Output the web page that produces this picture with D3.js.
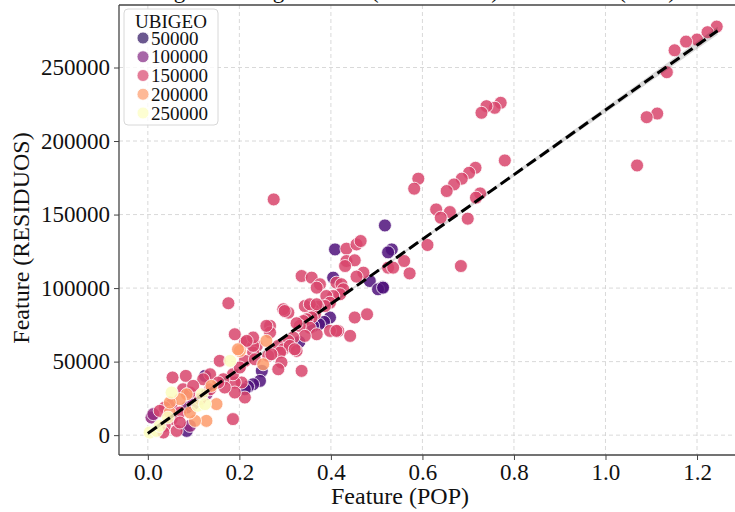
<!DOCTYPE html>
<html>
<head>
<meta charset="utf-8">
<script src="https://cdn.jsdelivr.net/npm/d3@7"></script>
<style>
  body { margin: 0; background: #fff; }
  svg { display: block; }
  text { font-family: "Liberation Serif", "Times New Roman", serif; fill: #111; }
</style>
</head>
<body>
<svg id="chart"></svg>
<script>
// points: [POP, RESIDUOS], one array per UBIGEO colour group
const darkCode = 70101;
const darkPts = [[0.518,142600],[0.533,126300],[0.525,124300],[0.513,100700],[0.409,126300],[0.405,107100],[0.485,104800],[0.503,99200],[0.514,100300],[0.398,80000],[0.385,77000],[0.374,75400],[0.361,74300],[0.331,63400],[0.249,43700],[0.245,36900],[0.230,34600],[0.219,33000],[0.212,31200],[0.125,40300],[0.085,2900]];

const magentaCode = 110101;
const magentaPts = [[0.008,12000],[0.012,14300],[0.085,18800],[0.092,6300],[0.128,27800],[0.099,21100]];

const pinkCode = 150101;
const pinkPts = [
  [1.243,277800],[1.223,274000],[1.200,269000],[1.176,267600],[1.151,261700],[1.134,246800],[1.113,218700],[1.090,216200],[1.069,183400],
  [0.771,226000],[0.758,222600],[0.740,223700],[0.729,219200],[0.780,186800],[0.716,181800],[0.702,178400],[0.686,174400],[0.669,170500],[0.653,166000],[0.591,174400],[0.582,167600],[0.726,164400],[0.717,161500],[0.660,151700],[0.630,153500],[0.640,147900],[0.699,147200],[0.611,129300],[0.684,115000],[0.560,118400],[0.572,110000],[0.525,113900],[0.536,113900],
  [0.275,160300],[0.434,126800],[0.456,129700],[0.465,132000],[0.434,118400],[0.452,118900],[0.431,115000],[0.471,110500],[0.456,107800],[0.336,108200],[0.358,107100],[0.376,102600],[0.369,100300],[0.412,103700],[0.423,102600],[0.427,99200],[0.420,95800],[0.405,94600],[0.390,94600],[0.398,90100],[0.387,87800],[0.372,87400],[0.361,85600],[0.365,82200],[0.358,80000],[0.347,78800],[0.340,77600],[0.307,83300],[0.296,85600],[0.354,73100],[0.332,74300],[0.325,76100],[0.452,80000],[0.479,82200],[0.416,70900],[0.398,70900],[0.442,67500],[0.369,68600],[0.343,67500],[0.318,66400],[0.307,64100],[0.267,74300],[0.267,69800],[0.238,60700],[0.285,60700],[0.296,58400],[0.310,60700],[0.289,56200],[0.325,57300],[0.230,56200],[0.263,53900],
  [0.190,68600],[0.212,63000],[0.230,60700],[0.212,50500],[0.234,51600],[0.270,55000],[0.292,49400],[0.285,44800],[0.336,43700],[0.321,58400],[0.299,84400],[0.343,87800],[0.354,89000],[0.369,89000],[0.412,70900],
  [0.205,35800],[0.190,35800],[0.186,41400],[0.212,25600],[0.190,29000],[0.186,10900],
  [0.176,89700],[0.054,39200],[0.083,40300],[0.136,41400],[0.121,38000],[0.165,38000],[0.157,50500],[0.168,32400],[0.154,35800],[0.136,31200],[0.114,24500],[0.052,21100],[0.037,18800],[0.026,16500],[0.070,15400],[0.052,10900],[0.037,6300],[0.063,2900],[0.034,1800],[0.070,8600],[0.077,31200],[0.092,29000],[0.099,33500],[0.259,74300],[0.230,66400],[0.216,64100],[0.201,46000]
];

const orangeCode = 200101;
const orangePts = [[0.259,64100],[0.201,57300],[0.252,48200],[0.197,58400],[0.139,33500],[0.128,9700],[0.103,9700],[0.048,15400],[0.085,27800],[0.070,24500],[0.048,22200],[0.092,15400],[0.150,21100]];

const yellowCode = 250101;
const yellowPts = [[0.004,1800],[0.019,2900],[0.026,6300],[0.044,12000],[0.052,29000],[0.118,27800],[0.109,20000],[0.125,21100],[0.180,50500]];

// fitted line and its confidence band
const fitPop = [0, 0.25, 0.5, 0.75, 1.0, 1.245];
const fitRes = [1200, 56200, 111200, 166100, 221100, 275000];
const fitHalf = [1500, 800, 700, 1200, 1900, 2700];

const legendValues = [50000, 100000, 150000, 200000, 250000];
const xTicks = [0, 0.2, 0.4, 0.6, 0.8, 1.0, 1.2];
const yTicks = [0, 50000, 100000, 150000, 200000, 250000];

const largura = 735, altura = 512;
const svg = d3.select('#chart').attr('width', largura).attr('height', altura);

const esq = 119, dir = 746, topo = 5, base = 455;

const fnX = d3.scaleLinear().domain([-0.063, 1.307]).range([esq, dir]);
const fnY = d3.scaleLinear().domain([-13500, 292500]).range([base, topo]);
const fnCor = v => d3.interpolateMagma((v - 10101) / (250401 - 10101));

svg.append('defs').append('clipPath').attr('id', 'area')
  .append('rect').attr('x', esq).attr('y', topo).attr('width', dir - esq).attr('height', base - topo);

// title (cut by the top of the picture)
svg.append('text')
  .attr('x', 412).attr('y', -2)
  .attr('text-anchor', 'middle')
  .style('font-size', '23px')
  .text('Regresión Log: Feature (RESIDUOS) and Feature (POP)');

// grid
const grade = svg.append('g').attr('clip-path', 'url(#area)');
grade.selectAll('.gx').data(xTicks).enter().append('line')
  .attr('x1', d => fnX(d)).attr('x2', d => fnX(d))
  .attr('y1', topo).attr('y2', base)
  .attr('stroke', '#cfcfcf').attr('stroke-width', 0.8).attr('stroke-dasharray', '4,3');
grade.selectAll('.gy').data(yTicks).enter().append('line')
  .attr('x1', esq).attr('x2', dir)
  .attr('y1', d => fnY(d)).attr('y2', d => fnY(d))
  .attr('stroke', '#cfcfcf').attr('stroke-width', 0.8).attr('stroke-dasharray', '4,3');

// points, lowest UBIGEO first
const pontos = [].concat(
  darkPts.map(p => ({pop: p[0], res: p[1], ubigeo: darkCode})),
  magentaPts.map(p => ({pop: p[0], res: p[1], ubigeo: magentaCode})),
  pinkPts.map(p => ({pop: p[0], res: p[1], ubigeo: pinkCode})),
  orangePts.map(p => ({pop: p[0], res: p[1], ubigeo: orangeCode})),
  yellowPts.map(p => ({pop: p[0], res: p[1], ubigeo: yellowCode}))
);

const plot = svg.append('g').attr('clip-path', 'url(#area)');
plot.selectAll('.ponto').data(pontos).enter().append('circle')
  .classed('ponto', true)
  .attr('cx', d => fnX(d.pop))
  .attr('cy', d => fnY(d.res))
  .attr('r', 6.5)
  .attr('fill', d => fnCor(d.ubigeo))
  .attr('fill-opacity', 0.85)
  .attr('stroke', '#fff')
  .attr('stroke-width', 0.8);

// confidence band + dashed fit line
const ajuste = fitPop.map((x, i) => ({x: x, y: fitRes[i], h: fitHalf[i]}));
plot.append('path').datum(ajuste)
  .attr('d', d3.area().x(d => fnX(d.x)).y0(d => fnY(d.y - d.h)).y1(d => fnY(d.y + d.h)))
  .attr('fill', '#000').attr('fill-opacity', 0.15);
plot.append('path').datum(ajuste)
  .attr('d', d3.line().x(d => fnX(d.x)).y(d => fnY(d.y)))
  .attr('fill', 'none').attr('stroke', '#000')
  .attr('stroke-width', 3).attr('stroke-dasharray', '11,5');

// axes
const eixoX = svg.append('g').attr('transform', 'translate(0,' + base + ')')
  .call(d3.axisBottom(fnX).tickValues(xTicks).tickFormat(d3.format('.1f')).tickSize(5).tickPadding(4));
const eixoY = svg.append('g').attr('transform', 'translate(' + esq + ',0)')
  .call(d3.axisLeft(fnY).tickValues(yTicks).tickFormat(d3.format('d')).tickSize(5).tickPadding(4));
[eixoX, eixoY].forEach(e => {
  e.select('.domain').remove();
  e.selectAll('line').attr('stroke', '#444');
  e.selectAll('text').style('font-size', '23px')
    .style('font-family', '"Liberation Serif", "Times New Roman", serif').attr('fill', '#111');
});

// spines
svg.append('line').attr('x1', esq).attr('x2', esq).attr('y1', topo).attr('y2', base)
  .attr('stroke', '#444').attr('stroke-width', 1.3);
svg.append('line').attr('x1', esq).attr('x2', dir).attr('y1', base).attr('y2', base)
  .attr('stroke', '#444').attr('stroke-width', 1.3);
svg.append('line').attr('x1', esq).attr('x2', dir).attr('y1', topo).attr('y2', topo)
  .attr('stroke', '#444').attr('stroke-width', 1.3);

// axis labels
svg.append('text').attr('x', 400).attr('y', 504).attr('text-anchor', 'middle')
  .style('font-size', '24px').text('Feature (POP)');
svg.append('text').attr('transform', 'translate(29,238) rotate(-90)').attr('text-anchor', 'middle')
  .style('font-size', '24px').text('Feature (RESIDUOS)');

// legend
const leg = svg.append('g');
leg.append('rect').attr('x', 124).attr('y', 9).attr('width', 94).attr('height', 116).attr('rx', 4)
  .attr('fill', '#fff').attr('fill-opacity', 0.8).attr('stroke', '#d8d8d8');
leg.append('text').attr('x', 171).attr('y', 28).attr('text-anchor', 'middle')
  .style('font-size', '19px').text('UBIGEO');
const itens = leg.selectAll('.item').data(legendValues).enter().append('g')
  .attr('transform', (d, i) => 'translate(143,' + (38 + i * 18.75) + ')');
itens.append('circle').attr('r', 6).attr('fill', d => fnCor(d)).attr('fill-opacity', 0.7)
  .attr('stroke', '#fff').attr('stroke-width', 0.8);
itens.append('text').attr('x', 8).attr('y', 6.5).style('font-size', '19px').text(d => d);
</script>
</body>
</html>
